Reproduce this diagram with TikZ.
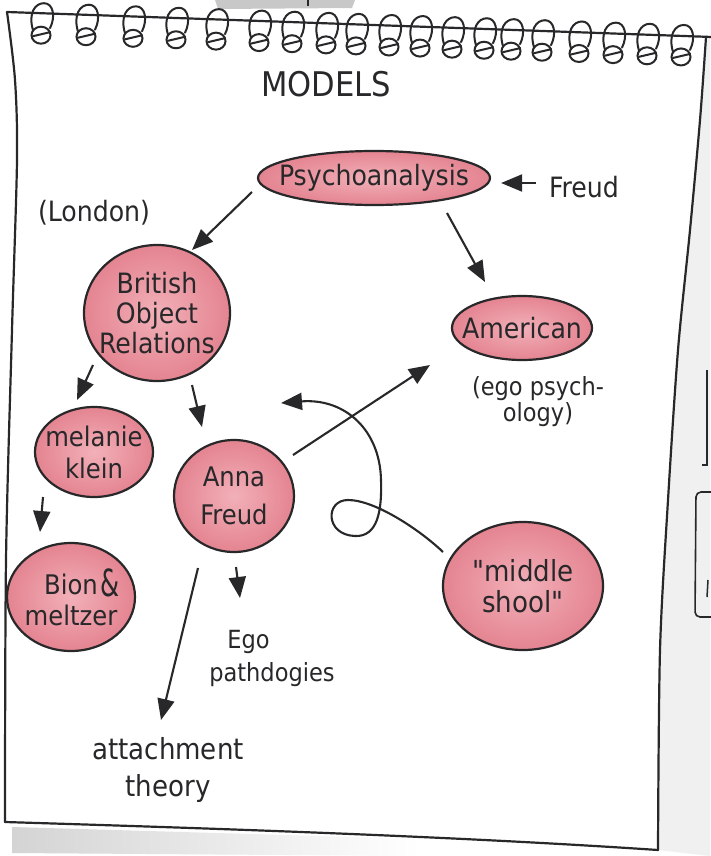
\documentclass[tikz,border=0pt]{standalone}
\usepackage{fontspec}
\setmainfont{DejaVu Sans Condensed}
\newfontfamily\qfont{DejaVu Sans Condensed}
\usetikzlibrary{arrows.meta,calc,shapes.geometric}
\definecolor{ink}{RGB}{40,40,42}
\definecolor{pinkout}{RGB}{228,132,145}
\definecolor{pinkin}{RGB}{242,176,184}
\definecolor{shadowgray}{RGB}{212,212,212}
\definecolor{sidegray}{RGB}{240,240,240}
\definecolor{topgray}{RGB}{200,200,200}
\newcommand{\fs}[2]{\fontsize{#1}{#2}\selectfont}
\begin{document}
\begin{tikzpicture}[x=1pt,y=-1pt,
  pageline/.style={draw=ink, line width=2.2pt, line cap=round, line join=round},
  spiral/.style={draw=ink, line width=2pt, line cap=round},
  blob/.style={ellipse, draw=ink, line width=2.2pt, inner color=pinkin, outer color=pinkout, inner sep=-150pt, text=ink, align=center},
  lbl/.style={text=ink, inner sep=0pt, align=center},
  arr/.style={draw=ink, line width=2.1pt, -{Triangle[length=21pt,width=17pt]}},
]
\useasboundingbox (0,0) rectangle (710,856);
\fill[white] (0,0) rectangle (710,856);
% background bits of other pages
\fill[sidegray] plot[smooth] coordinates {(706,37) (700,120) (690,230) (678,350) (668,500) (660,650) (658,850)} -- (710,856) -- (710,37) -- cycle;
\shade[left color=shadowgray, right color=white] (12,827) -- (420,839) -- (420,856) -- (12,853) -- cycle;
\fill[topgray] (215,0) -- (355,0) -- (352,8) -- (218,9) -- cycle;
\draw[ink, line width=1.5pt] (308,0) -- (308,6);
\draw[ink, line width=1.6pt] (707,370) -- (707,465) -- (702,465);
\draw[ink, line width=1.6pt, rounded corners=5pt] (712,492) -- (696,492) -- (695,617) -- (712,617);
\draw[ink, line width=1.5pt] (708,580) -- (707,597);
% page
\draw[pageline] plot[smooth] coordinates {(7,12) (15,80) (17,160) (12,330) (6,560) (5,822)};
\draw[pageline] (5,822) .. controls (200,828) and (450,836) .. (658,850);
\draw[pageline] plot[smooth] coordinates {(706,37) (700,120) (690,230) (678,350) (668,500) (660,650) (658,850)};
\draw[pageline] (7,12) -- (712,37);
% spirals
\foreach \c in {42,87,134,177,217,260,293,327,357,390,421,453,485,512,543,580,614,648,682}{
  \pgfmathsetmacro\L{12+0.034*(\c-7)}
  \draw[spiral] ({\c-9},{\L+17}) .. controls ({\c-14},{\L}) and ({\c-7},{\L-10}) .. ({\c+2},{\L-10}) .. controls ({\c+11},{\L-10}) and ({\c+14},{\L+3}) .. ({\c+8},{\L+15});
  \draw[spiral] ({\c-1},{\L+22}) ellipse[x radius=9.5, y radius=8.5];
  \draw[spiral] ({\c-9},{\L+23}) -- ({\c+8},{\L+19});
}
% texts and blobs
\node[lbl, font=\fs{34}{34}] (title) at (326,84) {MODELS};
\node[blob, minimum width=232pt, minimum height=54pt, font=\fs{28}{28}] (psy) at (374,178) {Psychoanalysis};
\node[lbl, font=\fs{28}{28}] (freud) at (584,187) {Freud};
\node[lbl, font=\fs{28}{28}] (london) at (94,213) {(London)};
\node[blob, minimum width=146pt, minimum height=136pt, font=\fs{28}{30}] (brit) at (157,313) {British\\Object\\Relations};
\node[blob, minimum width=140pt, minimum height=64pt, font=\fs{28}{28}] (amer) at (522,328) {American};
\node[lbl, font=\fs{25}{26}] (egopsy) at (538,402) {(ego psych-\\ology)};
\node[blob, minimum width=118pt, minimum height=90pt, font=\fs{27}{32}] (klein) at (94,452) {melanie\\klein};
\node[blob, minimum width=120pt, minimum height=112pt, font=\fs{27}{38}] (anna) at (234,496) {Anna\\Freud};
\node[blob, minimum width=128pt, minimum height=108pt, font=\fs{27}{31}] (bion) at (71,597) {Bion\rlap{\hspace{3pt}\raisebox{-2pt}{\scalebox{0.8}[1.1]{\fs{34}{34}\&}}}\\meltzer};
\node[blob, minimum width=160pt, minimum height=128pt, font=\fs{29}{31}] (ms) at (523,586) {{\qfont"}middle\\shool{\qfont"}};
\node[lbl, font=\fs{25}{33}, align=left] (ego) at (272,658) {\hspace*{18pt}Ego\\pathdogies};
\node[lbl, font=\fs{29}{37}] (attach) at (168,770) {attachment\\theory};
% connectors
\draw[arr] ($(psy)+(-122,14)$) -- ($(brit)+(35,-63)$);
\draw[arr] ($(psy)+(73,35)$) -- ($(amer)+(-37,-46)$);
\draw[arr] ($(freud.west)+(-13,-4)$) -- ($(psy.east)+(10,5)$);
\draw[arr] ($(brit)+(-64,52)$) -- ($(klein)+(-17,-52)$);
\draw[arr] ($(brit)+(35,72)$) -- ($(anna)+(-32,-69)$);
\draw[arr] ($(klein)+(-51,45)$) -- ($(bion)+(-31,-65)$);
\draw[arr] ($(anna)+(59,-41)$) -- ($(amer)+(-92,37)$);
\draw[arr] ($(anna)+(2,71)$) -- ($(ego)+(-32,-60)$);
\draw[arr] ($(anna)+(-36,72)$) -- ($(attach)+(-7,-50)$);
\coordinate (loopend) at (281,403);
\draw[arr] ($(ms)+(-80,-34)$) .. controls (420,530) and (375,500) .. (348,500) .. controls (325,500) and (325,535) .. (355,536) .. controls (378,537) and (382,510) .. (381,480) .. controls (380,430) and (345,398) .. (loopend);
\end{tikzpicture}
\end{document}
